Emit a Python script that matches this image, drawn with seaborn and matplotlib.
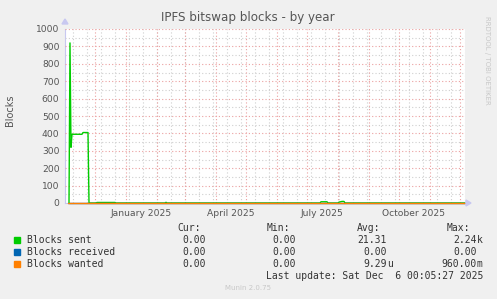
import matplotlib
matplotlib.use("Agg")
import matplotlib.pyplot as plt
import numpy as np
import pandas as pd
import seaborn as sns

# ---------------- data ----------------
start = pd.Timestamp("2024-11-01 00:05")
end = pd.Timestamp("2025-12-06 00:05")

# Blocks sent: (day offset from start, value)
sent_days = [4, 5, 6, 7, 17, 18, 23, 24, 31, 32, 50, 51, 100, 101, 102,
             255, 256, 262, 263, 273, 274, 277, 279, 280, 400]
sent_vals = [0, 920, 320, 395, 395, 405, 405, 0, 0, 3, 3, 0, 0, 4, 0,
             0, 7, 7, 0, 0, 5, 9, 9, 0, 0]
received_days = [3, 400]
received_vals = [0, 0]
wanted_days = [3, 400]
wanted_vals = [0, 0]

series_names = ["Blocks sent", "Blocks received", "Blocks wanted"]
series_colors = ["#00CC00", "#0066B3", "#FF8000"]
cur_vals = ["0.00", "0.00", "0.00"]
min_vals = ["0.00", "0.00", "0.00"]
avg_vals = ["21.31", "0.00", "9.29u"]
max_vals = ["2.24k", "0.00", "960.00m"]

y_ticks = [0, 100, 200, 300, 400, 500, 600, 700, 800, 900, 1000]
x_label_dates = ["2025-01-16", "2025-04-16", "2025-07-16", "2025-10-16"]
x_label_texts = ["January 2025", "April 2025", "July 2025", "October 2025"]

title = "IPFS bitswap blocks - by year"
y_label = "Blocks"
last_update = "Last update: Sat Dec  6 00:05:27 2025"
footer = "Munin 2.0.75"
side_text = "RRDTOOL / TOBI OETIKER"

# ---------------- build frame ----------------
rows = []
for name, days, vals in zip(series_names,
                            [sent_days, received_days, wanted_days],
                            [sent_vals, received_vals, wanted_vals]):
    for d, v in zip(days, vals):
        rows.append({"series": name, "date": start + pd.Timedelta(days=d), "value": v})
df = pd.DataFrame(rows)

sns.set_theme(style="white")
plt.rcParams["font.family"] = ["DejaVu Sans"]

W, H = 497, 299
fig = plt.figure(figsize=(W / 100, H / 100), dpi=100, facecolor="#F0F0F0")
L, R, T, B = 65, 465, 29, 203
ax = fig.add_axes([L / W, (H - B) / H, (R - L) / W, (B - T) / H])
ax.set_facecolor("white")

ax.set_xlim(start, end)
ax.set_ylim(0, 1000)

# grid
dotted = (0, (1, 2))
minor_x = pd.date_range("2024-11-09", end, freq="14D")
for d in minor_x:
    ax.axvline(d, color="#CFCFCF", lw=0.8, ls=dotted, zorder=1)
for yv in range(50, 1001, 100):
    ax.axhline(yv, color="#CFCFCF", lw=0.8, ls=dotted, zorder=1)
month_x = pd.date_range("2024-12-01", end, freq="MS")
for d in month_x:
    ax.axvline(d, color="#EBA0A0", lw=0.8, ls=dotted, zorder=1.5)
for yv in y_ticks[1:]:
    ax.axhline(yv, color="#EBA0A0", lw=0.8, ls=dotted, zorder=1.5)

n_before = len(ax.lines)
sns.lineplot(data=df, x="date", y="value", hue="series", hue_order=series_names,
             palette=series_colors, ax=ax, legend=False, lw=1.0,
             estimator=None, sort=False)
# draw order like rrdtool: sent, received, wanted (last on top)
for k, ln in enumerate(ax.lines[n_before:]):
    ln.set_zorder(3 + 0.1 * k)
    ln.set_clip_on(False)

# axes styling
for s in ["top", "right"]:
    ax.spines[s].set_visible(False)
for s in ["left", "bottom"]:
    ax.spines[s].set_color("#C8C8F0")
    ax.spines[s].set_linewidth(0.8)
    ax.spines[s].set_zorder(0.5)

ax.set_yticks(y_ticks)
ax.set_yticklabels([str(v) for v in y_ticks])
ax.tick_params(axis="y", labelsize=6.6, colors="#555555", length=0, pad=4)
ax.set_xticks(pd.to_datetime(x_label_dates))
ax.set_xticklabels(x_label_texts)
ax.tick_params(axis="x", labelsize=6.6, colors="#555555", length=0, pad=4)
ax.set_xlabel("")
ax.set_ylabel("")

# arrows
fig.patches.append(plt.Polygon([[(L - 3) / W, (H - 24) / H], [(L + 3) / W, (H - 24) / H],
                                [L / W, (H - 19) / H]], closed=True, transform=fig.transFigure,
                               color="#C8C8F0", zorder=5))
fig.patches.append(plt.Polygon([[(R + 1) / W, (H - B + 3) / H], [(R + 1) / W, (H - B - 3) / H],
                                [(R + 6) / W, (H - B) / H]], closed=True, transform=fig.transFigure,
                               color="#C8C8F0", zorder=5))

# texts
fig.text(248 / W, 1 - 18 / H, title, ha="center", va="center", fontsize=8.6, color="#555555")
fig.text(10 / W, 1 - 110 / H, y_label, ha="center", va="center", rotation=90,
         fontsize=7, color="#555555")
fig.text(487 / W, 1 - 60 / H, side_text, ha="center", va="center", rotation=270,
         fontsize=5, color="#C8C8C8")

mono = "DejaVu Sans Mono"
fs = 7.0
hdr_y = 228
for hx, htxt in zip([177, 267, 357, 447], ["Cur:", "Min:", "Avg:", "Max:"]):
    fig.text(hx / W, 1 - hdr_y / H, htxt, fontsize=fs, family=mono, ha="left",
             va="center", color="#333333")

col_ends = [205.7, 296, 386.7, 476.7]
for i, name in enumerate(series_names):
    yy = 240 + i * 12
    fig.patches.append(plt.Rectangle((14 / W, 1 - (yy + 3) / H), 6 / W, 6 / H,
                                     transform=fig.transFigure, color=series_colors[i]))
    fig.text(27 / W, 1 - yy / H, name, fontsize=fs, family=mono, ha="left", va="center", color="#333333")
    for xe, col in zip(col_ends, [cur_vals, min_vals, avg_vals, max_vals]):
        v = col[i]
        if v[-1].isalpha():
            num, suf = v[:-1], v[-1]
        else:
            num, suf = v, ""
        fig.text(xe / W, 1 - yy / H, num, fontsize=fs, family=mono, ha="right", va="center", color="#333333")
        if suf:
            fig.text(xe / W, 1 - yy / H, suf, fontsize=fs, family=mono, ha="left", va="center", color="#333333")

fig.text(483 / W, 1 - 276 / H, last_update, fontsize=fs, family=mono, ha="right", va="center", color="#333333")
fig.text(248 / W, 1 - 288 / H, footer, fontsize=5, ha="center", va="center", color="#C8C8C8")

fig.savefig("out.png", dpi=100, facecolor=fig.get_facecolor())
